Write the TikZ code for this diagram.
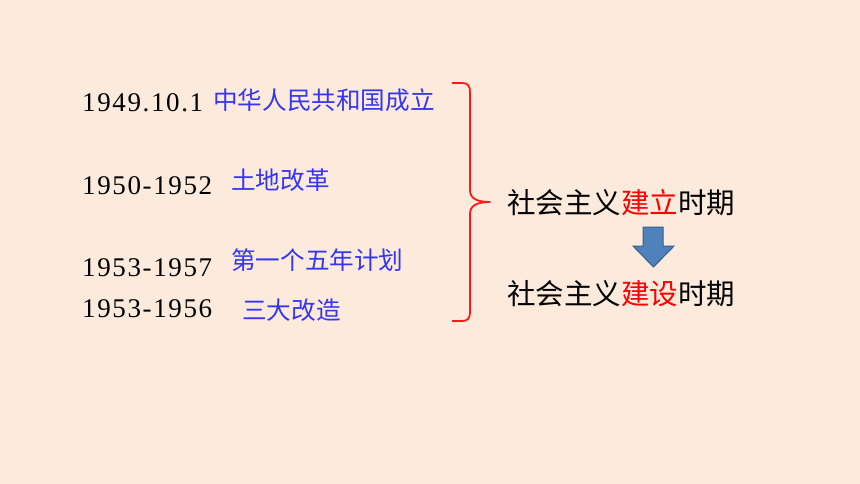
\documentclass[tikz,border=0pt]{standalone}
\usepackage{fontspec}
\setmainfont{Liberation Serif}
\newfontfamily\cjk{Noto Sans CJK SC}
\newfontfamily\datefont[LetterSpace=6]{Liberation Serif}
\definecolor{bgpeach}{HTML}{FCEBDC}
\definecolor{labelblue}{HTML}{3535F5}
\definecolor{arrowfill}{HTML}{4F81BD}
\definecolor{arrowline}{HTML}{385D8A}
\definecolor{bracered}{HTML}{FF1A1A}
\tikzset{
	date/.style={anchor=base west, inner sep=0pt, font=\datefont\fontsize{27}{27}\selectfont},
	event/.style={anchor=base west, inner sep=0pt, text=labelblue, font=\cjk\fontsize{24.6}{24.6}\selectfont},
	period/.style={anchor=base west, inner sep=0pt, font=\cjk\fontsize{28.5}{28.5}\selectfont}
}
\begin{document}
\begin{tikzpicture}[x=1pt, y=-1pt]
			\fill[bgpeach] (0,0) rectangle (860,484);		% background
			\useasboundingbox (0,0) rectangle (860,484);
			
			% dates
			\node[date] (d1) at (82,112) {1949.10.1};
			\node[date] (d2) at (82,194) {1950-1952};
			\node[date] (d3) at (82,276) {1953-1957};
			\node[date] (d4) at (82,317) {1953-1956};
			
			% events
			\node[event] (e1) at (213,109.5) {中华人民共和国成立};
			\node[event] (e2) at (231,189.5) {土地改革};
			\node[event] (e3) at (231,269) {第一个五年计划};
			\node[event] (e4) at (242,319.5) {三大改造};
			
			% brace
			\draw[bracered, line width=1.8pt, line join=round]
				(452,83) -- (462,83) .. controls (468,83) and (470,86) .. (470,92)
				-- (470,190) .. controls (470,198) and (476,202) .. (490,202)
				.. controls (476,202) and (470,206) .. (470,214)
				-- (470,312) .. controls (470,318) and (468,321) .. (462,321) -- (452,321);
			
			% periods
			\node[period] (p1) at (507,213) {社会主义\textcolor{red}{建立}时期};
			\node[period] (p2) at (507,304) {社会主义\textcolor{red}{建设}时期};
			
			% arrow
			\draw[fill=arrowfill, draw=arrowline, line width=1pt, line join=miter]
				(643,227) -- (663,227) -- (663,246) -- (674,246) -- (653.5,267)
				-- (633,246) -- (643,246) -- cycle;
		\end{tikzpicture}
\end{document}
